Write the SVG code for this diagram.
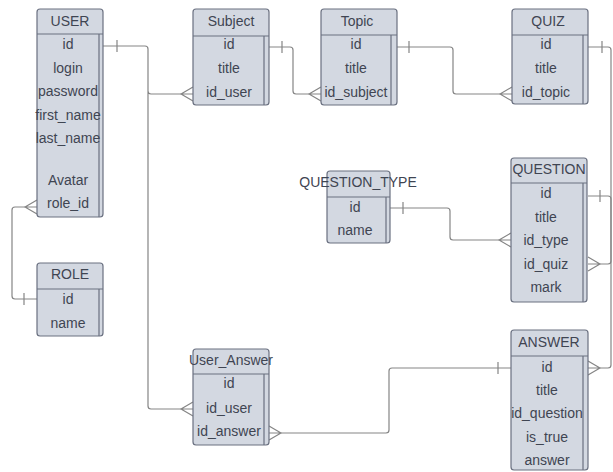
<svg xmlns="http://www.w3.org/2000/svg" width="613" height="472" viewBox="0 0 613 472">
<style>
.box{fill:#d3d8e1;stroke:#6a7080;stroke-width:1.2}
.sep{stroke:#6a7080;stroke-width:1.2;fill:none}
.t{font-family:"Liberation Sans",Arial,sans-serif;font-size:14px;fill:#3f4552;text-anchor:middle}
.c{fill:none;stroke:#858585;stroke-width:1.2;stroke-linejoin:round}
</style>
<rect width="613" height="472" fill="#ffffff"/>
<g id="connectors">
  <!-- USER.id -> Subject.id_user, User_Answer.id_user -->
  <path class="c" d="M103,46 H145 Q148,46 148,49 V406 Q148,409 151,409 H181 M148,91 Q148,94 151,94 H181 M117,40 V52"/>
  <path class="c" d="M193,87 L181,94 L193,101 M181,94 H193"/>
  <path class="c" d="M193,402 L181,409 L193,416 M181,409 H193"/>
  <!-- Subject.id -> Topic.id_subject -->
  <path class="c" d="M269,47 H290 Q293,47 293,50 V91 Q293,94 296,94 H309 M282,41 V53"/>
  <path class="c" d="M321,87 L309,94 L321,101 M309,94 H321"/>
  <!-- Topic.id -> QUIZ.id_topic -->
  <path class="c" d="M397,47 H450 Q453,47 453,50 V91 Q453,94 456,94 H500 M409,41 V53"/>
  <path class="c" d="M512,87 L500,94 L512,101 M500,94 H512"/>
  <!-- QUIZ.id -> QUESTION.id_quiz -->
  <path class="c" d="M588,47 H608 Q611,47 611,50 V261 Q611,264 608,264 H600 M602,41 V53"/>
  <path class="c" d="M588,257 L600,264 L588,271 M588,264 H600"/>
  <!-- QUESTION_TYPE.id -> QUESTION.id_type -->
  <path class="c" d="M390,208 H447 Q450,208 450,211 V237 Q450,240 453,240 H499 M403,202 V214"/>
  <path class="c" d="M511,233 L499,240 L511,247 M499,240 H511"/>
  <!-- QUESTION.id -> ANSWER.id -->
  <path class="c" d="M588,196 H608 Q611,196 611,199 V365 Q611,368 608,368 H600 M600,190 V202"/>
  <path class="c" d="M588,361 L600,368 L588,375 M588,368 H600"/>
  <!-- ANSWER.id -> User_Answer.id_answer -->
  <path class="c" d="M511,368 H392 Q389,368 389,371 V430 Q389,433 386,433 H281 M498,362 V374"/>
  <path class="c" d="M269,426 L281,433 L269,440 M269,433 H281"/>
  <!-- ROLE.id -> USER.role_id -->
  <path class="c" d="M25,207 H15 Q12,207 12,210 V296 Q12,299 15,299 H37 M24,293 V305"/>
  <path class="c" d="M37,200 L25,207 L37,214 M25,207 H37"/>
</g>
<g id="USER">
  <rect class="box" x="37" y="9" width="66" height="208" rx="3"/>
  <path class="sep" d="M37,34 H103 M99,34 V217"/>
  <text class="t" x="70" y="26">USER</text>
  <text class="t" x="68" y="49">id</text>
  <text class="t" x="68" y="73">login</text>
  <text class="t" x="68" y="96">password</text>
  <text class="t" x="68" y="120">first_name</text>
  <text class="t" x="68" y="143">last_name</text>
  <text class="t" x="68" y="185">Avatar</text>
  <text class="t" x="68" y="208">role_id</text>
</g>
<g id="ROLE">
  <rect class="box" x="37" y="263" width="66" height="73" rx="3"/>
  <path class="sep" d="M37,289 H103 M99,289 V336"/>
  <text class="t" x="70" y="279">ROLE</text>
  <text class="t" x="68" y="304">id</text>
  <text class="t" x="68" y="328">name</text>
</g>
<g id="Subject">
  <rect class="box" x="193" y="9" width="76" height="96" rx="3"/>
  <path class="sep" d="M193,36 H269 M264,36 V105"/>
  <text class="t" x="231" y="26">Subject</text>
  <text class="t" x="229" y="49">id</text>
  <text class="t" x="229" y="73">title</text>
  <text class="t" x="229" y="97">id_user</text>
</g>
<g id="Topic">
  <rect class="box" x="321" y="9" width="76" height="96" rx="3"/>
  <path class="sep" d="M321,35 H397 M391,35 V105"/>
  <text class="t" x="357" y="26">Topic</text>
  <text class="t" x="356" y="49">id</text>
  <text class="t" x="356" y="73">title</text>
  <text class="t" x="356" y="97">id_subject</text>
</g>
<g id="QUIZ">
  <rect class="box" x="512" y="9" width="76" height="95" rx="3"/>
  <path class="sep" d="M512,35 H588 M583,35 V104"/>
  <text class="t" x="548" y="26">QUIZ</text>
  <text class="t" x="546" y="49">id</text>
  <text class="t" x="546" y="73">title</text>
  <text class="t" x="546" y="97">id_topic</text>
</g>
<g id="QUESTION_TYPE">
  <rect class="box" x="327" y="171" width="63" height="72" rx="3"/>
  <path class="sep" d="M327,197 H390 M386,197 V243"/>
  <text class="t" x="358" y="187">QUESTION_TYPE</text>
  <text class="t" x="355" y="212">id</text>
  <text class="t" x="355" y="235">name</text>
</g>
<g id="QUESTION">
  <rect class="box" x="511" y="158" width="76" height="144" rx="3"/>
  <path class="sep" d="M511,183 H587 M583,183 V302"/>
  <text class="t" x="549" y="174">QUESTION</text>
  <text class="t" x="546" y="198">id</text>
  <text class="t" x="546" y="222">title</text>
  <text class="t" x="546" y="245">id_type</text>
  <text class="t" x="546" y="269">id_quiz</text>
  <text class="t" x="546" y="292">mark</text>
</g>
<g id="User_Answer">
  <rect class="box" x="193" y="349" width="76" height="96" rx="3"/>
  <path class="sep" d="M193,374 H269 M264,374 V445"/>
  <text class="t" x="231" y="365">User_Answer</text>
  <text class="t" x="229" y="388">id</text>
  <text class="t" x="229" y="413">id_user</text>
  <text class="t" x="229" y="436">id_answer</text>
</g>
<g id="ANSWER">
  <rect class="box" x="511" y="330" width="77" height="140" rx="3"/>
  <path class="sep" d="M511,356 H588 M583,356 V470"/>
  <text class="t" x="549" y="347">ANSWER</text>
  <text class="t" x="547" y="372">id</text>
  <text class="t" x="547" y="395">title</text>
  <text class="t" x="547" y="418">id_question</text>
  <text class="t" x="547" y="442">is_true</text>
  <text class="t" x="547" y="465">answer</text>
</g>
</svg>
